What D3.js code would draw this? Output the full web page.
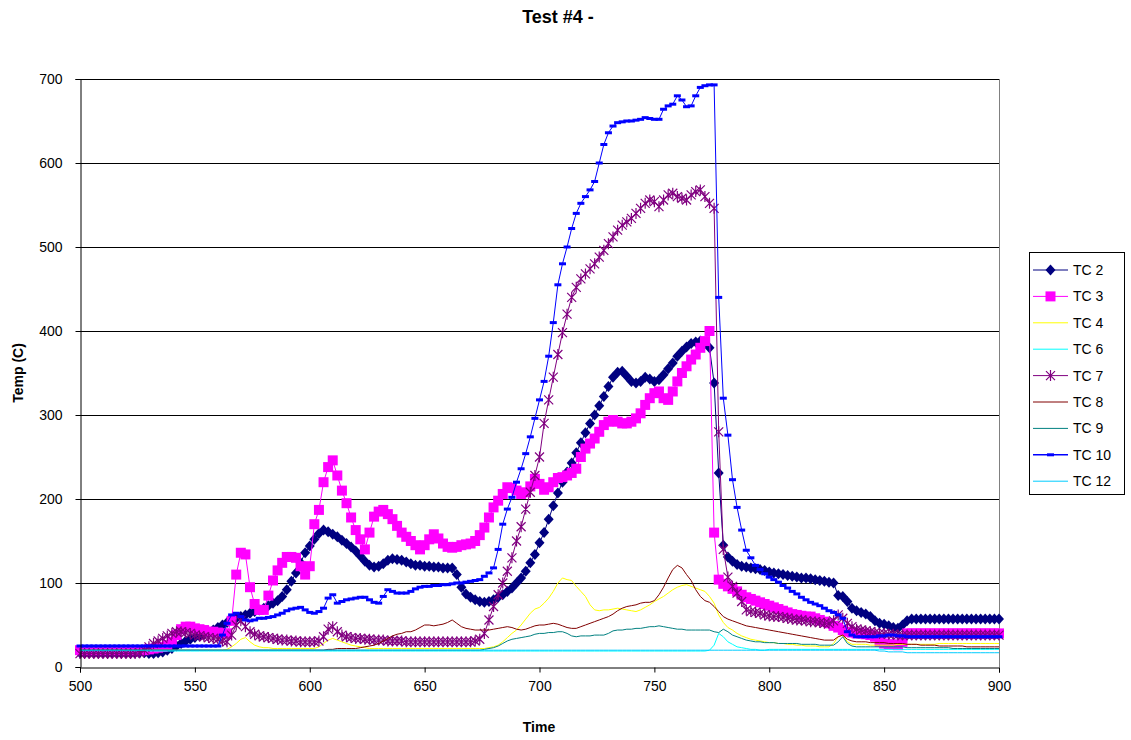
<!DOCTYPE html>
<html>
<meta charset="utf-8">
<head>
<title>Test #4 -</title>
<style>
body { margin: 0; background: #fff; }
text { font-family: Arial, "Liberation Sans", sans-serif; fill: #000; }
.line { fill: none; stroke-width: 1px; }
</style>
</head>
<body>
<script src="https://d3js.org/d3.v7.min.js"></script>
<script>

// time axis (s), one reading every 2 s
var time = d3.range(500, 901, 2);

var tc2 = [17,17,17,17,17,17,17,17,17,17, 17,17,17,17,17,16,16,17,18,20,
  22,25,28,31,33,35,37,39,41,44, 47,50,53,56,58,60,62,64,66,68,
  70,73,76,79,84,92,102,112,124,136, 144,152,159,163,161,158,155,151,147,143,
  138,132,126,121,119,120,123,127,129,128, 127,125,123,121,121,120,120,119,119,118,
  118,118,110,95,87,83,80,78,77,78, 80,83,86,90,94,100,106,114,124,134,
  148,160,176,192,207,220,232,243,255,267, 279,290,300,311,322,334,345,351,352,346,
  340,338,340,345,343,340,342,348,355,362, 370,376,381,385,387,388,385,380,338,231,
  145,131,126,122,120,119,118,117,116,115, 113,112,111,110,109,108,107,106,106,105,
  104,103,102,101,100,85,84,78,70,67, 65,63,60,55,52,51,49,47,46,50,
  55,57,57,57,57,57,57,57,57,57, 57,57,57,57,57,57,57,57,57,57, 57];

var tc3 = [20,20,20,20,20,20,20,20,20,20, 20,20,20,20,20,21,22,23,24,26,
  30,38,45,48,48,46,45,44,42,42, 41,40,40,55,110,136,134,95,75,68,
  68,85,103,115,124,131,131,130,120,110, 120,170,187,220,238,246,228,210,195,178,
  163,152,140,160,179,185,187,182,176,168, 160,155,150,145,140,145,152,158,153,147,
  143,142,143,145,146,147,150,157,166,178, 190,198,206,214,213,210,206,208,215,224,
  218,211,214,220,225,226,228,231,236,250, 260,266,272,280,288,292,294,292,290,290,
  292,296,302,312,320,326,328,320,318,328, 340,350,358,366,372,380,388,400,160,104,
  99,96,93,90,86,83,81,79,77,75, 73,71,69,67,65,63,62,61,60,60,
  58,56,54,52,49,47,44,42,41,40, 40,39,38,36,30,28,27,27,26,30,
  40,40,40,40,40,40,40,40,40,40, 40,40,40,40,40,40,40,40,40,40, 40];

var tc4 = [20,20,20,20,20,20,20,20,20,20, 20,20,20,20,20,20,20,20,20,20,
  20,20,20,20,20,20,20,20,20,20, 20,20,21,24,28,33,35,30,26,24,
  23,23,22,22,22,22,22,22,22,22, 22,22,24,28,32,34,32,30,28,26,
  25,24,23,22,22,22,22,22,22,22, 22,22,22,22,22,22,22,22,22,22,
  22,22,22,22,22,22,22,22,22,23, 24,26,30,35,40,44,50,57,64,69,
  71,76,82,90,100,106,104,103,96,90, 84,74,68,67,68,68,69,70,69,68,
  67,66,68,71,74,78,81,84,88,92, 95,97,98,96,94,92,90,84,76,62,
  53,47,44,40,37,35,33,32,31,30, 29,29,28,28,27,27,26,26,25,25,
  25,24,24,24,28,36,38,30,27,27, 27,27,26,26,26,26,26,26,27,27,
  27,27,27,27,27,27,27,28,28,28, 28,28,28,28,28,28,28,28,28,28, 28];

var tc6 = [19,19,19,19,19,19,19,19,19,19, 19,19,19,19,19,19,19,19,19,19,
  19,19,19,19,19,19,19,19,19,19, 19,19,19,19,19,19,19,19,19,19,
  19,19,19,19,19,19,19,19,19,19, 19,19,19,19,19,19,19,19,19,19,
  19,19,19,19,19,19,19,19,19,19, 19,19,19,19,19,19,19,19,19,19,
  19,19,19,19,19,19,19,19,19,19, 19,19,19,19,19,19,19,19,19,19,
  19,19,19,19,19,19,19,19,19,19, 19,19,19,19,19,19,19,19,19,19,
  19,19,19,19,19,19,19,19,19,19, 19,19,19,19,19,19,19,20,26,40,
  36,30,27,24,23,22,21,21,20,20, 21,21,21,21,21,21,21,21,21,21,
  21,21,21,21,21,21,21,21,21,21, 21,21,21,21,21,21,21,21,21,21,
  21,21,21,21,21,21,21,21,21,21, 21,21,21,21,21,21,21,21,21,21, 21];

var tc7 = [16,16,16,16,16,16,16,16,16,16, 16,16,16,17,20,24,28,31,34,37,
  40,42,42,41,40,38,37,36,35,34, 33,31,30,38,50,55,48,42,39,37,
  36,35,34,33,32,32,31,31,30,30, 30,30,31,36,45,48,42,38,36,35,
  34,34,33,33,32,32,32,31,31,31, 31,30,30,30,30,30,30,30,30,30,
  30,30,30,30,30,30,31,33,40,56, 72,86,100,114,130,150,167,188,208,228,
  250,290,318,345,372,398,420,440,452,462, 468,474,480,488,496,504,512,520,526,530,
  534,540,546,552,556,554,548,556,562,564, 560,558,556,562,566,568,560,552,546,280,
  140,107,96,88,78,68,66,65,64,62, 61,60,60,59,58,57,56,56,55,54,
  54,53,52,52,55,62,58,52,48,45, 44,43,42,41,40,40,39,39,38,38,
  38,38,38,38,38,38,38,38,38,38, 38,38,38,38,38,38,38,38,38,38, 38];

var tc8 = [20,20,20,20,20,20,20,20,20,20, 20,20,20,20,20,20,20,20,20,20,
  20,20,20,20,20,20,20,20,20,20, 20,20,20,20,20,20,20,20,20,20,
  20,20,20,20,20,20,20,20,20,20, 20,20,20,20,21,21,22,22,22,22,
  22,23,24,25,26,28,31,34,37,39, 40,42,42,44,47,50,50,49,50,51,
  53,56,52,48,46,45,44,44,44,44, 45,46,47,48,47,45,44,45,47,49,
  50,50,51,52,51,49,47,46,46,48, 50,52,54,56,58,60,63,67,70,72,
  73,74,76,77,77,79,86,95,106,116, 121,118,110,103,92,84,79,77,72,66,
  60,57,55,53,51,49,48,47,46,45, 44,43,42,41,40,39,38,37,36,35,
  34,33,32,32,32,36,38,33,31,30, 30,30,29,29,29,29,28,28,28,28,
  27,27,27,26,26,26,26,25,25,25, 25,25,25,24,24,24,24,24,24,24, 24];

var tc9 = [20,20,20,20,20,20,20,20,20,20, 20,20,20,20,20,20,20,20,20,20,
  20,20,20,20,20,20,20,20,20,20, 20,20,20,20,20,20,20,20,20,20,
  20,20,20,20,20,20,20,20,20,20, 20,20,20,20,20,20,20,20,20,20,
  20,20,20,20,20,20,20,20,20,20, 20,20,20,20,20,20,20,20,20,20,
  20,20,20,20,20,20,20,20,21,22, 23,25,28,31,33,34,35,36,37,39,
  40,40,41,41,42,42,40,37,36,37, 37,37,38,38,38,40,43,44,44,45,
  45,46,46,47,48,48,49,48,47,46, 45,45,44,44,44,44,44,44,42,41,
  45,42,38,36,34,32,31,30,30,29, 29,29,28,28,28,28,28,27,27,27,
  27,26,26,26,26,30,36,28,25,24, 24,24,24,24,24,24,24,24,24,24,
  23,23,23,23,23,23,23,23,23,23, 22,22,22,22,22,22,22,22,22,22, 22];

var tc10 = [25,25,25,25,25,25,25,25,25,25, 25,25,25,25,25,25,25,25,25,25,
  25,25,25,25,25,25,25,25,25,25, 25,38,52,62,64,60,56,55,56,58,
  58,59,60,62,64,67,69,70,71,68, 65,64,66,70,82,86,76,78,80,81,
  82,83,83,80,77,76,84,92,90,88, 88,88,90,93,95,96,96,97,97,98,
  98,99,100,100,101,102,103,104,108,112, 118,140,170,188,202,220,236,254,274,296,
  318,340,370,410,455,480,500,522,540,552, 560,568,578,600,622,636,644,648,649,650,
  650,651,652,654,653,652,652,664,668,670, 680,675,667,668,680,690,692,693,693,440,
  320,276,223,190,163,139,130,121,116,111, 107,104,101,97,94,90,87,83,80,77,
  75,73,70,67,65,62,58,42,38,36, 36,36,36,36,37,37,38,38,37,37,
  36,36,36,36,36,36,36,36,36,36, 36,36,36,36,36,36,36,36,36,36, 36];

var tc12 = [20,20,20,20,20,20,20,20,20,20, 20,20,20,20,20,20,20,20,20,20,
  20,20,20,20,20,20,20,20,20,20, 20,20,20,20,20,20,20,20,20,20,
  20,20,20,20,20,20,20,20,20,20, 20,20,20,20,20,20,20,20,20,20,
  20,20,20,20,20,20,20,20,20,20, 20,20,20,20,20,20,20,20,20,20,
  20,20,20,20,20,20,20,20,20,20, 20,20,20,20,20,20,20,20,20,20,
  20,20,20,20,20,20,20,20,20,20, 20,20,20,20,20,20,20,20,20,20,
  20,20,20,20,20,20,20,20,20,20, 20,20,20,20,20,20,20,20,20,20,
  20,20,20,20,20,20,20,20,20,20, 20,20,20,20,20,20,20,20,20,20,
  20,20,20,20,20,20,20,20,20,20, 20,20,20,20,19,19,18,18,18,18,
  17,17,17,17,17,17,17,17,17,17, 17,17,17,17,17,17,17,17,17,17, 17];

var seriesNames = ["TC 2", "TC 3", "TC 4", "TC 6", "TC 7", "TC 8", "TC 9", "TC 10", "TC 12"];
var seriesValues = [tc2, tc3, tc4, tc6, tc7, tc8, tc9, tc10, tc12];
var seriesColors = ["#000080", "#FF00FF", "#FFFF00", "#00FFFF", "#800080", "#800000", "#008080", "#0000FF", "#00CCFF"];
var seriesMarkers = ["diamond", "square", null, null, "star", null, null, "dash", null];

var xTicks = [500, 550, 600, 650, 700, 750, 800, 850, 900];
var yTicks = [0, 100, 200, 300, 400, 500, 600, 700];

var plot = {left: 80, top: 79, right: 999, bottom: 667};

var x = d3.scaleLinear().domain([500, 900]).range([plot.left, plot.right]);
var y = d3.scaleLinear().domain([0, 700]).range([plot.bottom, plot.top]);

var svg = d3.select("body").append("svg")
  .attr("width", 1131)
  .attr("height", 740);

// marker shapes
var markerPath = {
  diamond: "M0,-5.5L5,0L0,5.5L-5,0Z",
  square: "M-5,-5H5V5H-5Z",
  star: "M-4.5,-4.5L4.5,4.5M-4.5,4.5L4.5,-4.5M0,-5.5V5.5",
  dash: "M-3.5,-1.5H3.5V1.5H-3.5Z"
};

function drawMarker(g, type, color, cx, cy) {
  var p = g.append("path")
    .attr("d", markerPath[type])
    .attr("transform", "translate(" + cx + "," + cy + ")");
  if (type == "star") {
    p.attr("fill", "none").attr("stroke", color).attr("stroke-width", 1.2);
  } else {
    p.attr("fill", color).attr("stroke", "none");
  }
}

// gridlines
svg.append("g")
  .selectAll("line")
  .data(yTicks.filter(function(d) { return d > 0; }))
  .enter().append("line")
  .attr("x1", plot.left).attr("x2", plot.right)
  .attr("y1", function(d) { return y(d) + 0.5; })
  .attr("y2", function(d) { return y(d) + 0.5; })
  .attr("stroke", "#000").attr("stroke-width", 1);

// right border of the plot area
svg.append("line")
  .attr("x1", plot.right + 0.5).attr("x2", plot.right + 0.5)
  .attr("y1", plot.top).attr("y2", plot.bottom)
  .attr("stroke", "#808080");

// series
var line = d3.line()
  .x(function(d, i) { return x(time[i]); })
  .y(function(d) { return y(d); });

var plotArea = svg.append("g");

seriesValues.forEach(function(vals, s) {
  var g = plotArea.append("g");
  g.append("path")
    .datum(vals)
    .attr("class", "line")
    .attr("stroke", seriesColors[s])
    .attr("stroke-width", s == 7 ? 1.5 : 1)
    .attr("d", line);
  if (seriesMarkers[s]) {
    vals.forEach(function(v, i) {
      drawMarker(g, seriesMarkers[s], seriesColors[s], x(time[i]), y(v));
    });
  }
});

// axes
var yAxis = svg.append("g")
  .attr("transform", "translate(" + (plot.left + 0.5) + ",0)")
  .call(d3.axisLeft(y).tickValues(yTicks).tickSize(5).tickPadding(13));
var xAxis = svg.append("g")
  .attr("transform", "translate(0," + (plot.bottom + 0.5) + ")")
  .call(d3.axisBottom(x).tickValues(xTicks).tickSize(5).tickPadding(9));

[xAxis, yAxis].forEach(function(a) {
  a.select(".domain").attr("stroke", "#000");
  a.selectAll(".tick line").attr("stroke", "#000");
  a.selectAll("text")
    .style("font-family", "Arial, 'Liberation Sans', sans-serif")
    .style("font-size", "14px")
    .attr("fill", "#000");
});

// titles
svg.append("text")
  .attr("x", 558).attr("y", 23)
  .attr("text-anchor", "middle")
  .style("font-size", "18px").style("font-weight", "bold")
  .text("Test #4 -");

svg.append("text")
  .attr("x", 539).attr("y", 732)
  .attr("text-anchor", "middle")
  .style("font-size", "14px").style("font-weight", "bold")
  .text("Time");

svg.append("text")
  .attr("transform", "translate(23,373) rotate(-90)")
  .attr("text-anchor", "middle")
  .style("font-size", "14px").style("font-weight", "bold")
  .text("Temp (C)");

// legend
var legend = svg.append("g");
legend.append("rect")
  .attr("x", 1029.5).attr("y", 252.5)
  .attr("width", 95).attr("height", 242)
  .attr("fill", "#fff").attr("stroke", "#000");

seriesNames.forEach(function(name, s) {
  var ly = 270 + s * 26.4;
  var g = legend.append("g");
  g.append("line")
    .attr("x1", 1033).attr("x2", 1068)
    .attr("y1", ly).attr("y2", ly)
    .attr("stroke", seriesColors[s])
    .attr("stroke-width", s == 7 ? 1.5 : 1);
  if (seriesMarkers[s]) drawMarker(g, seriesMarkers[s], seriesColors[s], 1050.5, ly);
  g.append("text")
    .attr("x", 1073).attr("y", ly + 5)
    .style("font-size", "14px")
    .text(name);
});

</script>
</body>
</html>
